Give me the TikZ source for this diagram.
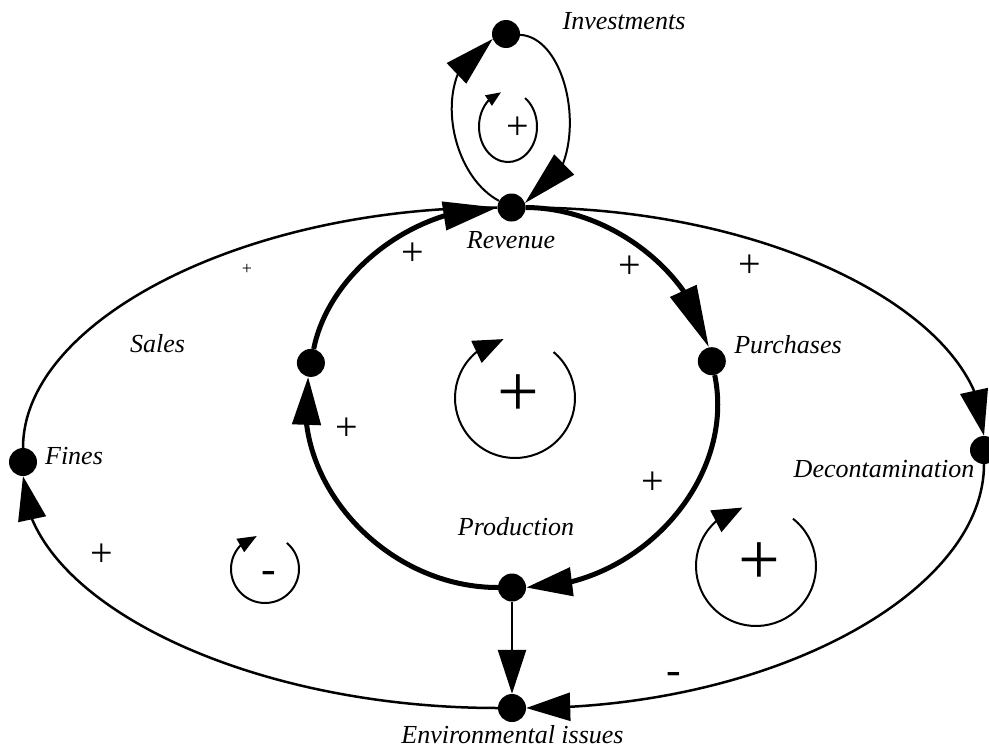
\documentclass[tikz,border=0pt]{standalone}
\usepackage{fontspec}
\setmainfont{Liberation Serif}
\usetikzlibrary{arrows.meta,bending}
\begin{document}
\begin{tikzpicture}[x=1pt,y=1pt,yscale=-1,
  dot/.style={circle,fill=black,inner sep=0pt,minimum size=28pt},
  lbl/.style={font=\fontsize{26}{30}\selectfont\itshape,inner sep=0pt,anchor=base},
  sgn/.style={font=\fontsize{40}{44}\selectfont,inner sep=0pt},
  bigsgn/.style={font=\fontsize{74}{80}\selectfont,inner sep=0pt},
  tinysgn/.style={font=\fontsize{18}{20}\selectfont,inner sep=0pt},
  minussgn/.style={font=\fontsize{44}{48}\selectfont,inner sep=0pt},
  thinlink/.style={line width=2.5pt},
  thicklink/.style={line width=5pt},
  looplink/.style={line width=2pt},
  tipbig/.style={-{Triangle[length=#1,width=28pt,flex]}},
  tiploop/.style 2 args={-{Triangle[length=#1,width=#2,flex]}}
]
\useasboundingbox (0,0) rectangle (989,750);

% variables
\node[dot] (inv) at (506,34) {};
\node[dot] (rev) at (511.5,207.5) {};
\node[dot] (pur) at (711.8,361.2) {};
\node[dot] (prod) at (512,587.5) {};
\node[dot] (sal) at (310.9,362.9) {};
\node[dot] (fin) at (23,462) {};
\node[dot] (dec) at (984,450) {};
\node[dot] (env) at (512,708) {};

% inner loop
\draw[thicklink,tipbig=62pt] (rev) .. controls (609.2,207.5) and (693.2,271.9) .. (pur);
\draw[thicklink,tipbig=46pt] (pur) .. controls (736.3,478.5) and (639.8,587.5) .. (prod);
\draw[thicklink,tipbig=48pt] (prod) .. controls (383.9,587.5) and (287.6,479.7) .. (sal);
\draw[thicklink,tipbig=54pt] (sal) .. controls (328.8,272.9) and (413.2,207.5) .. (rev);

% outer loop
\draw[thinlink] (fin) .. controls (23,321.4) and (241.7,207.5) .. (rev);
\draw[thinlink,tipbig=46pt] (rev) .. controls (772.5,207.5) and (984,316.1) .. (dec);
\draw[thinlink,tipbig=44pt] (dec) .. controls (984,592.5) and (772.7,708) .. (env);
\draw[thinlink,tipbig=44pt] (env) .. controls (242,708) and (23,597.9) .. (fin);

% production -> environmental issues
\draw[thinlink,tipbig=44pt] (prod) -- (env);

% investments loop
\draw[looplink,tipbig=50pt] (rev) .. controls (445,172) and (430,62) .. (inv);
\draw[looplink,tipbig=55pt] (inv) .. controls (575,38) and (595,180) .. (rev);

% loop symbols
\coordinate (li) at (508,126.6);
\coordinate (lc) at (515,398);
\coordinate (lr) at (756,566);
\coordinate (ll) at (265,569);
\draw[looplink,tiploop={15pt}{12pt}] ([shift={(17.05,-28.6)}]li) arc[start angle=-54,end angle=256,x radius=29,y radius=35.4];
\draw[looplink,tiploop={30pt}{24pt}] ([shift={(-50:60)}]lc) arc[start angle=-50,end angle=259,radius=60];
\draw[looplink,tiploop={30pt}{24pt}] ([shift={(-52:60)}]lr) arc[start angle=-52,end angle=257,radius=60];
\draw[looplink,tiploop={19pt}{15pt}] ([shift={(-50:34)}]ll) arc[start angle=-50,end angle=256,radius=34];

% labels
\node[lbl] (tinv) at (624,29) {Investments};
\node[lbl] (trev) at (511,248) {Revenue};
\node[lbl] (tpur) at (788,353) {Purchases};
\node[lbl] (tsal) at (157.5,352) {Sales};
\node[lbl] (tfin) at (74,464) {Fines};
\node[lbl] (tdec) at (884,477) {Decontamination};
\node[lbl] (tprod) at (516,535) {Production};
\node[lbl] (tenv) at (512.5,743) {Environmental issues};

% polarities
\node[sgn] (s1) at (413,254) {+};
\node[sgn] (s2) at (630,267) {+};
\node[sgn] (s3) at (750,266) {+};
\node[tinysgn] (s4) at (247,269) {+};
\node[sgn] (s5) at (347,429) {+};
\node[sgn] (s6) at (653,483) {+};
\node[sgn] (s7) at (102,555) {+};
\node[sgn] (s8) at (518,128) {+};
\node[bigsgn] (s9) at (518,396) {+};
\node[bigsgn] (s10) at (759,564) {+};
\node[minussgn] (s11) at (269,577) {-};
\node[minussgn] (s12) at (674,678) {-};
\end{tikzpicture}
\end{document}
